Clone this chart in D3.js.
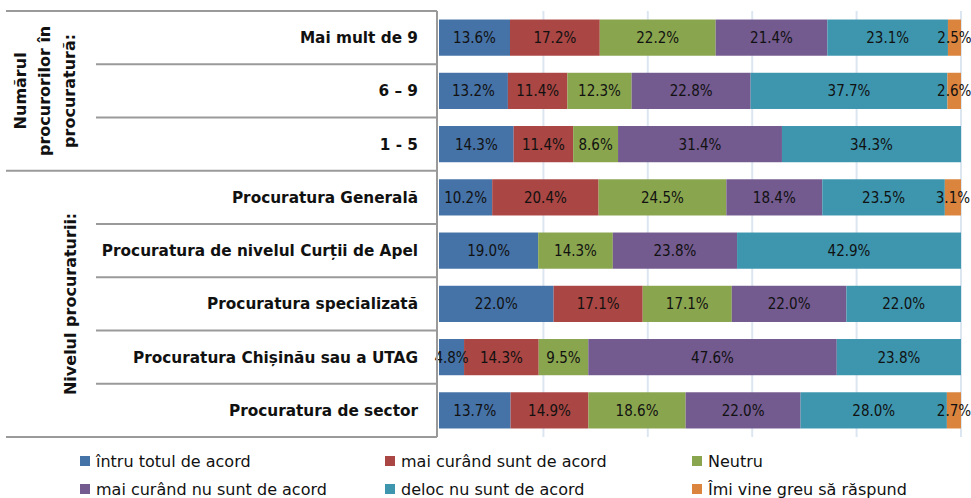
<!DOCTYPE html>
<html>
<head>
<meta charset="utf-8">
<script src="https://cdn.jsdelivr.net/npm/d3@7"></script>
<style>
  html, body { margin: 0; padding: 0; background: #fff; }
  svg { display: block; font-family: "DejaVu Sans", sans-serif; }
</style>
</head>
<body>
<svg id="chart" width="971" height="498"></svg>
<script>
const categories = [
  "Mai mult de 9", "6 – 9", "1 - 5",
  "Procuratura Generală", "Procuratura de nivelul Curții de Apel",
  "Procuratura specializată", "Procuratura Chișinău sau a UTAG", "Procuratura de sector"
];
const seriesNames = [
  "întru totul de acord", "mai curând sunt de acord", "Neutru",
  "mai curând nu sunt de acord", "deloc nu sunt de acord", "Îmi vine greu să răspund"
];
const totAcord     = [13.6, 13.2, 14.3, 10.2, 19.0, 22.0, 4.8, 13.7];
const maiCurandDa  = [17.2, 11.4, 11.4, 20.4, 0,    17.1, 14.3, 14.9];
const neutru       = [22.2, 12.3, 8.6,  24.5, 14.3, 17.1, 9.5, 18.6];
const maiCurandNu  = [21.4, 22.8, 31.4, 18.4, 23.8, 22.0, 47.6, 22.0];
const delocNu      = [23.1, 37.7, 34.3, 23.5, 42.9, 22.0, 23.8, 28.0];
const greuRaspuns  = [2.5,  2.6,  0,    3.1,  0,    0,    0,   2.7];
const groups = [
  { lines: ["Numărul", "procurorilor în", "procuratură:"], from: 0, to: 3 },
  { lines: ["Nivelul procuraturii:"], from: 3, to: 8 }
];
const gridTicks = [0.2, 0.4, 0.6, 0.8, 1.0];
const colors = ["#4572A7", "#AA4643", "#89A54E", "#735A8F", "#3D96AE", "#DB843D"];

const seriesArrays = [totAcord, maiCurandDa, neutru, maiCurandNu, delocNu, greuRaspuns];
const table = categories.map((c, i) => {
  const row = { cat: c };
  seriesNames.forEach((s, j) => row[s] = seriesArrays[j][i]);
  return row;
});

const svg = d3.select("#chart");
const yTop = 11, yBottom = 437, plotL = 439, plotR = 961, tableR = 437;

const x = d3.scaleLinear().domain([0, 1]).range([plotL, plotR]);
const y = d3.scaleBand().domain(categories).range([yTop, yBottom]).paddingInner(0.32).paddingOuter(0.16);
const step = y.step();
const rowEdge = i => yTop + i * step;

// gridlines
svg.append("g").selectAll("line").data(gridTicks).join("line")
  .attr("x1", d => x(d)).attr("x2", d => x(d))
  .attr("y1", yTop).attr("y2", yBottom)
  .attr("stroke", "#dce6f1").attr("stroke-width", 2);

// stacked bars
const stack = d3.stack().keys(seriesNames).offset(d3.stackOffsetExpand);
const stacked = stack(table);
const layers = svg.append("g").selectAll("g").data(stacked).join("g")
  .attr("fill", (d, i) => colors[i]);
layers.selectAll("rect").data(d => d.map(p => ({ p, key: d.key }))).join("rect")
  .attr("x", d => x(d.p[0]))
  .attr("width", d => Math.max(0, x(d.p[1]) - x(d.p[0])))
  .attr("y", d => y(d.p.data.cat))
  .attr("height", y.bandwidth());

// value labels
const labels = [];
stacked.forEach(layer => layer.forEach(p => {
  const v = p.data[layer.key];
  if (v > 0) labels.push({ v, cx: (x(p[0]) + x(p[1])) / 2, cy: y(p.data.cat) + y.bandwidth() / 2 });
}));
svg.append("g").selectAll("text").data(labels).join("text")
  .attr("x", d => d.cx).attr("y", d => d.cy).attr("dy", "0.36em")
  .attr("text-anchor", "middle")
  .attr("font-family", "'DejaVu Sans Condensed', 'DejaVu Sans', sans-serif")
  .attr("font-size", 15).attr("fill", "#111")
  .text(d => d.v.toFixed(1) + "%");

// table lines
const tg = svg.append("g").attr("stroke", "#9a9a9a").attr("stroke-width", 2).attr("fill", "none");
for (let i = 0; i <= categories.length; i++) {
  const isGroupEdge = groups.some(g => g.from === i || g.to === i);
  tg.append("line")
    .attr("x1", isGroupEdge ? 6 : 96).attr("x2", tableR)
    .attr("y1", rowEdge(i)).attr("y2", rowEdge(i));
}
tg.append("line").attr("x1", tableR).attr("x2", tableR).attr("y1", yTop).attr("y2", yBottom);

// category labels
svg.append("g").selectAll("text").data(categories).join("text")
  .attr("x", 418).attr("y", d => y(d) + y.bandwidth() / 2).attr("dy", "0.36em")
  .attr("text-anchor", "end").attr("font-weight", "bold").attr("font-size", 15.3).attr("fill", "#111")
  .text(d => d);

// group labels
groups.forEach(g => {
  const cy = (rowEdge(g.from) + rowEdge(g.to)) / 2;
  const n = g.lines.length;
  const baseX = n === 1 ? 70 : 44.5;
  const t = svg.append("text")
    .attr("transform", `translate(${baseX},${cy}) rotate(-90)`)
    .attr("text-anchor", "middle").attr("font-weight", "bold").attr("font-size", 16).attr("fill", "#111");
  g.lines.forEach((ln, k) => {
    t.append("tspan").attr("x", 0).attr("y", (k - (n - 1) / 2) * 24.5).attr("dy", "0.36em").text(ln);
  });
});

// legend
const legX = [80, 385, 692], legY = [461, 489];
const leg = svg.append("g").selectAll("g").data(seriesNames).join("g")
  .attr("transform", (d, i) => `translate(${legX[i % 3]},${legY[Math.floor(i / 3)]})`);
leg.append("rect").attr("x", 0).attr("y", -5).attr("width", 10).attr("height", 10)
  .attr("fill", (d, i) => colors[i]);
leg.append("text").attr("x", 16).attr("y", 0).attr("dy", "0.36em")
  .attr("font-size", 16).attr("fill", "#111").text(d => d);
</script>
</body>
</html>
